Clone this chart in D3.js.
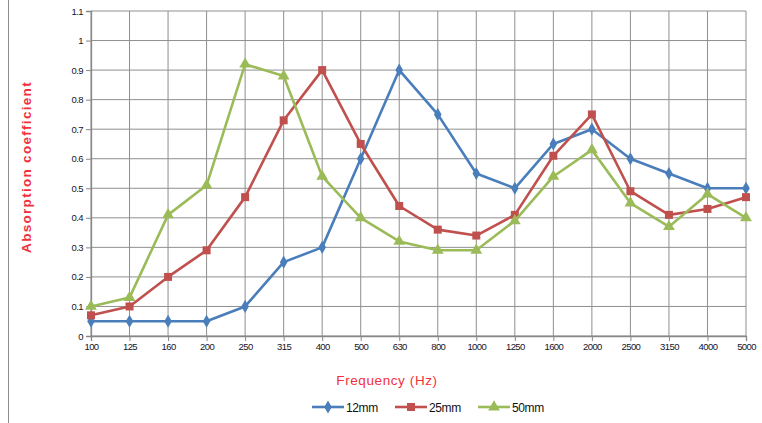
<!DOCTYPE html>
<html>
<head>
<meta charset="utf-8">
<script src="https://cdn.jsdelivr.net/npm/d3@7"></script>
<style>
  body { margin: 0; background: #fff; }
  svg { display: block; font-family: "Liberation Sans", Arial, sans-serif; }
</style>
</head>
<body>
<svg></svg>
<script>
const WIDTH = 762;
const HEIGHT = 423;
const MARGIN = { top: 11, right: 16, bottom: 87, left: 91 };

const frequencies = ["100", "125", "160", "200", "250", "315", "400", "500", "630", "800",
  "1000", "1250", "1600", "2000", "2500", "3150", "4000", "5000"];
const yTicks = [0, 0.1, 0.2, 0.3, 0.4, 0.5, 0.6, 0.7, 0.8, 0.9, 1, 1.1];

const series12 = [0.05, 0.05, 0.05, 0.05, 0.10, 0.25, 0.30, 0.60, 0.90, 0.75,
  0.55, 0.50, 0.65, 0.70, 0.60, 0.55, 0.50, 0.50];
const series25 = [0.07, 0.10, 0.20, 0.29, 0.47, 0.73, 0.90, 0.65, 0.44, 0.36,
  0.34, 0.41, 0.61, 0.75, 0.49, 0.41, 0.43, 0.47];
const series50 = [0.10, 0.13, 0.41, 0.51, 0.92, 0.88, 0.54, 0.40, 0.32, 0.29,
  0.29, 0.39, 0.54, 0.63, 0.45, 0.37, 0.48, 0.40];

const seriesNames = ["12mm", "25mm", "50mm"];
const seriesColors = ["#4a7ebb", "#c0504d", "#9bbb59"];
const seriesSymbols = [d3.symbolDiamond, d3.symbolSquare, d3.symbolTriangle];
const seriesSizes = [50, 64, 60];

const TITLE_RED = "#f2303c";

let $svg = d3.select("svg").attr("width", WIDTH).attr("height", HEIGHT);

const plotW = WIDTH - MARGIN.left - MARGIN.right;
const plotH = HEIGHT - MARGIN.top - MARGIN.bottom;

let xScale = d3.scalePoint().domain(frequencies).range([0, plotW]);
let yScale = d3.scaleLinear().domain([0, 1.1]).range([plotH, 0]);

// left border of the frame
$svg.append("line")
  .attr("x1", 8.5).attr("x2", 8.5).attr("y1", 0).attr("y2", HEIGHT)
  .attr("stroke", "#8c8c8c").attr("stroke-width", 1);

let $g = $svg.append("g").attr("transform", `translate(${MARGIN.left},${MARGIN.top})`);

// grid
$g.append("g").selectAll("line").data(yTicks).enter().append("line")
  .attr("x1", 0).attr("x2", plotW)
  .attr("y1", d => yScale(d)).attr("y2", d => yScale(d))
  .attr("stroke", "#8f8f8f").attr("stroke-width", 1);
$g.append("g").selectAll("line").data(frequencies).enter().append("line")
  .attr("x1", d => xScale(d)).attr("x2", d => xScale(d))
  .attr("y1", 0).attr("y2", plotH)
  .attr("stroke", "#8f8f8f").attr("stroke-width", 1);

// axes
let yAxis = d3.axisLeft(yScale).tickValues(yTicks).tickSize(5).tickPadding(3)
  .tickFormat(d => d3.format("")(+d.toFixed(1)));
let $ya = $g.append("g").call(yAxis);
let xAxis = d3.axisBottom(xScale).tickSize(5).tickPadding(2);
let $xa = $g.append("g").attr("transform", `translate(0,${plotH})`).call(xAxis);

[$ya, $xa].forEach($a => {
  $a.select(".domain").attr("stroke", "#888").attr("stroke-width", 1.3);
  $a.selectAll(".tick line").attr("stroke", "#888");
  $a.selectAll(".tick text").attr("fill", "#141428")
    .style("font-size", "9.5px").style("letter-spacing", "-0.6px");
});

// lines and markers
const allSeries = [series12, series25, series50];
allSeries.forEach((values, i) => {
  let line = d3.line().x((d, j) => xScale(frequencies[j])).y(d => yScale(d));
  $g.append("path").datum(values)
    .attr("d", line)
    .attr("fill", "none")
    .attr("stroke", seriesColors[i])
    .attr("stroke-width", 2.6)
    .attr("stroke-linejoin", "round");

  $g.append("g").selectAll("path").data(values).enter().append("path")
    .attr("d", d3.symbol().type(seriesSymbols[i]).size(seriesSizes[i]))
    .attr("transform", (d, j) => `translate(${xScale(frequencies[j])},${yScale(d)})`)
    .attr("fill", seriesColors[i]);
});

// titles
$svg.append("text")
  .attr("transform", "translate(31,167) rotate(-90)")
  .attr("text-anchor", "middle")
  .attr("fill", TITLE_RED)
  .style("font-size", "13.5px").style("font-weight", "bold")
  .style("letter-spacing", "1.3px")
  .text("Absorption coefficient");

$svg.append("text")
  .attr("x", 387).attr("y", 385)
  .attr("text-anchor", "middle")
  .attr("fill", TITLE_RED)
  .style("font-size", "13.5px").style("letter-spacing", "0.6px")
  .text("Frequency (Hz)");

// legend
const legendX = [312, 395, 478];
seriesNames.forEach((name, i) => {
  let $l = $svg.append("g").attr("transform", `translate(${legendX[i]},407)`);
  $l.append("line").attr("x1", 0).attr("x2", 32).attr("y1", 0).attr("y2", 0)
    .attr("stroke", seriesColors[i]).attr("stroke-width", 2.6);
  $l.append("path")
    .attr("d", d3.symbol().type(seriesSymbols[i]).size(seriesSizes[i]))
    .attr("transform", "translate(16,0)")
    .attr("fill", seriesColors[i]);
  $l.append("text").attr("x", 34).attr("y", 5)
    .attr("fill", "#111")
    .style("font-size", "12px").style("letter-spacing", "-0.4px")
    .text(name);
});
</script>
</body>
</html>
